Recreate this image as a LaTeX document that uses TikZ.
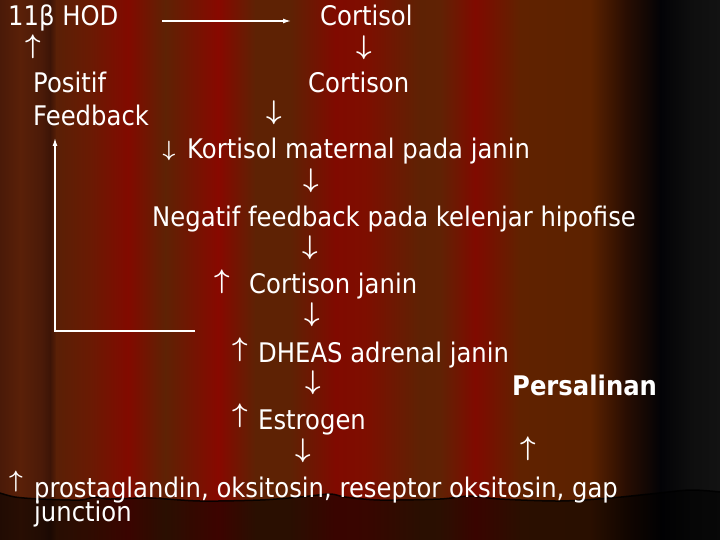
\RequirePackage{fix-cm}
\documentclass[tikz,border=0pt]{standalone}
\usepackage{graphicx}
\usepackage{fontspec}
\setmainfont[FakeStretch=0.9]{DejaVu Sans}
\usetikzlibrary{arrows.meta}
\definecolor{s00}{HTML}{4A1A08}
\definecolor{s01}{HTML}{5A2008}
\definecolor{s02}{HTML}{4A1A08}
\definecolor{s03}{HTML}{3C1406}
\definecolor{s04}{HTML}{5A2006}
\definecolor{s05}{HTML}{6A1A03}
\definecolor{s06}{HTML}{820A00}
\definecolor{s07}{HTML}{5E2204}
\definecolor{s08}{HTML}{880800}
\definecolor{s09}{HTML}{5E2204}
\definecolor{s10}{HTML}{5E2204}
\definecolor{s11}{HTML}{800A00}
\definecolor{s12}{HTML}{7E0E00}
\definecolor{s13}{HTML}{5E2204}
\definecolor{s14}{HTML}{602204}
\definecolor{s15}{HTML}{800A00}
\definecolor{s16}{HTML}{602200}
\definecolor{s17}{HTML}{5C2200}
\definecolor{s18}{HTML}{2A0E02}
\definecolor{s19}{HTML}{030306}
\definecolor{s20}{HTML}{0E0E0E}
\definecolor{s21}{HTML}{121212}
\newcommand\bgseg[4]{\shade[left color=#3,right color=#4] (#1,0) rectangle (#2+0.6,540);}
\begin{document}
\begin{tikzpicture}[x=1pt,y=-1pt,
  txt/.style={text=white, inner sep=0pt, anchor=base west, font=\fontsize{27}{32}\selectfont},
  arr/.style={text=white, inner sep=0pt, anchor=center, font=\fontsize{27}{32}\selectfont\boldmath},
  wline/.style={draw=white, line width=1.3pt}]
\useasboundingbox (0,0) rectangle (720,540);
% background stripes
\bgseg{0}{20}{s00}{s01}
\bgseg{20}{42}{s01}{s02}
\bgseg{42}{50}{s02}{s03}
\bgseg{50}{56}{s03}{s04}
\bgseg{56}{90}{s04}{s05}
\bgseg{90}{128}{s05}{s06}
\bgseg{128}{165}{s06}{s07}
\bgseg{165}{218}{s07}{s08}
\bgseg{218}{255}{s08}{s09}
\bgseg{255}{290}{s09}{s10}
\bgseg{290}{335}{s10}{s11}
\bgseg{335}{365}{s11}{s12}
\bgseg{365}{420}{s12}{s13}
\bgseg{420}{440}{s13}{s14}
\bgseg{440}{475}{s14}{s15}
\bgseg{475}{520}{s15}{s16}
\bgseg{520}{590}{s16}{s17}
\bgseg{590}{625}{s17}{s18}
\bgseg{625}{660}{s18}{s19}
\bgseg{660}{690}{s19}{s20}
\shade[left color=s20,right color=s21] (690,0) rectangle (720,540);
% curtain hem and darker floor
\fill[black,opacity=0.55] plot[smooth] coordinates {(0,493) (15,497) (40,499) (80,500) (95,497) (110,499) (150,498) (200,501) (260,500) (300,497) (330,494) (345,497) (380,500) (440,499) (470,496) (500,499) (560,501) (610,498) (650,494) (690,490) (720,492)} -- (720,540) -- (0,540) -- cycle;
\draw[black,line width=1.5pt,opacity=0.85] plot[smooth] coordinates {(0,493) (15,497) (40,499) (80,500) (95,497) (110,499) (150,498) (200,501) (260,500) (300,497) (330,494) (345,497) (380,500) (440,499) (470,496) (500,499) (560,501) (610,498) (650,494) (690,490) (720,492)};
% texts
\node[txt] (hod) at (8,26) {11β HOD};
\node[txt] (cortisol) at (320,26) {Cortisol};
\node[arr] (u1) at (33,47) {$\uparrow$};
\node[arr] (d1) at (364,48) {$\downarrow$};
\node[txt] (positif) at (33,93) {Positif};
\node[txt] (cortison) at (308,93) {Cortison};
\node[txt] (feedback) at (33,126) {Feedback};
\node[arr] (d2) at (274,113) {$\downarrow$};
\node[arr] (d3) at (169,151) {\scalebox{0.82}{$\downarrow$}};
\node[txt] (kortisol) at (187,159) {Kortisol maternal pada janin};
\node[arr] (d4) at (311,181) {$\downarrow$};
\node[txt] (negatif) at (152,226) {Negatif feedback pada kelenjar hipofise};
\node[arr] (d5) at (310,248) {$\downarrow$};
\node[arr] (u2) at (222,282) {$\uparrow$};
\node[txt] (cjanin) at (249,293) {Cortison janin};
\node[arr] (d6) at (312,315) {$\downarrow$};
\node[arr] (u3) at (240,350) {$\uparrow$};
\node[txt] (dheas) at (258,362) {DHEAS adrenal janin};
\node[arr] (d7) at (313,383) {$\downarrow$};
\node[txt,font=\fontsize{27}{32}\selectfont\bfseries] (persalinan) at (512,395) {Persalinan};
\node[arr] (u4) at (240,416) {$\uparrow$};
\node[txt] (estrogen) at (258,429) {Estrogen};
\node[arr] (d8) at (303,451) {$\downarrow$};
\node[arr] (u5) at (528,449) {$\uparrow$};
\node[arr] (u6) at (16,482) {\scalebox{0.88}{$\uparrow$}};
\node[txt] (prosta) at (34,497) {prostaglandin, oksitosin, reseptor oksitosin, gap};
\node[txt] (junction) at (34,521) {junction};
% connectors
\coordinate (h1) at (162,21);
\coordinate (h2) at (291,21);
\draw[wline,-{Latex[length=8pt,width=5pt]}] (h1) -- (h2);
\coordinate (f1) at (195,331);
\coordinate (f2) at (55,331);
\coordinate (f3) at (55,138);
\draw[wline,-{Latex[length=8pt,width=5pt]}] (f1) -- (f2) -- (f3);
\end{tikzpicture}
\end{document}
